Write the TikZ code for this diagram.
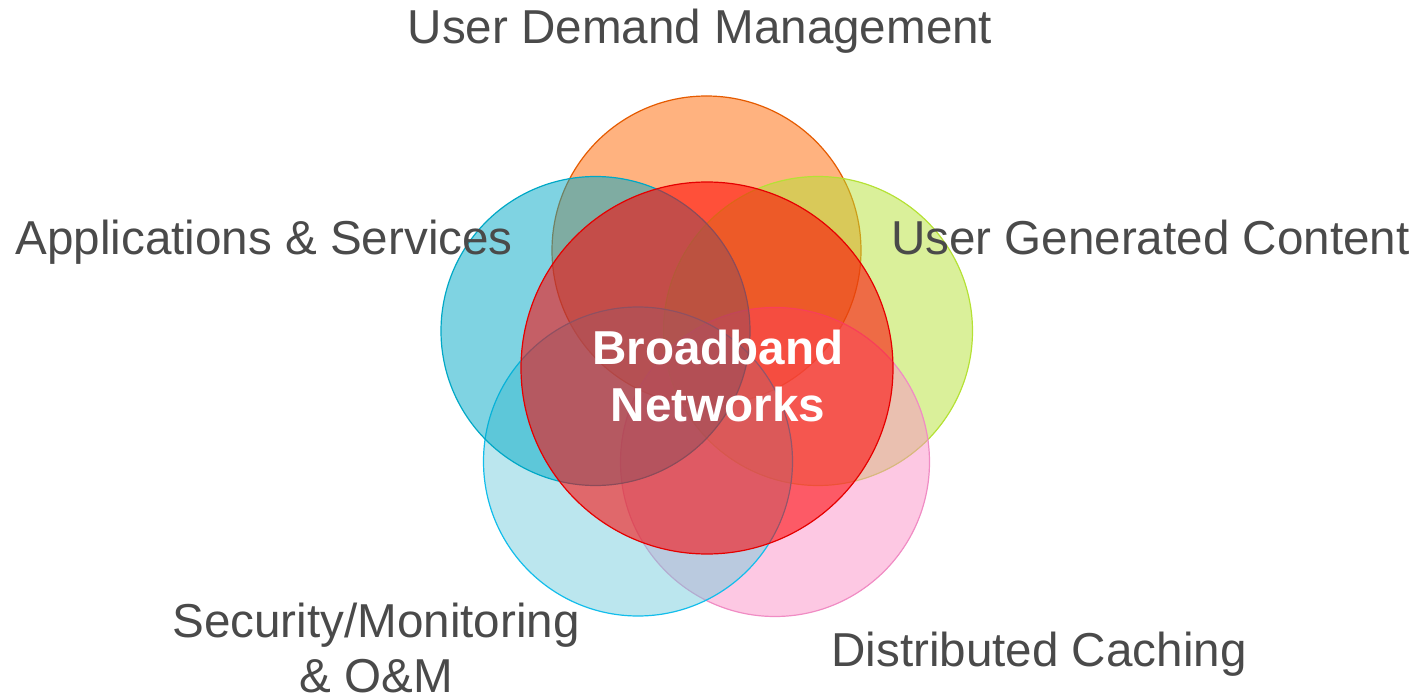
\documentclass[tikz,border=0pt]{standalone}
\usepackage{fontspec}
\setmainfont{Liberation Sans}
\usepackage{xcolor}
\definecolor{labelgray}{HTML}{4A4A4A}
\definecolor{demandorange}{HTML}{FF6500}
\definecolor{appsteal}{HTML}{00A8C6}
\definecolor{contentgreen}{HTML}{B5E135}
\definecolor{securitycyan}{HTML}{78CDDD}
\definecolor{securityline}{HTML}{12BDEB}
\definecolor{cachepink}{HTML}{FB91C7}
\definecolor{cacheline}{HTML}{F08CC4}
\definecolor{broadred}{HTML}{FF0000}
\tikzset{
  topic/.style={text=labelgray, font=\fontsize{23.8}{27.5}\selectfont, inner sep=0pt, anchor=base},
  core/.style={text=white, font=\bfseries\fontsize{23.8}{28.5}\selectfont, inner sep=0pt, align=center},
  blob/.style={fill opacity=0.5, draw opacity=1, line width=0.6pt},
}

\begin{document}
\begin{tikzpicture}[x=0.5pt,y=-0.5pt]
\useasboundingbox (0,0) rectangle (1421,700);
% the five topic circles
\filldraw[blob, fill=demandorange, draw=demandorange!90!black] (706.5,250.5) circle (77.25pt);
\filldraw[blob, fill=contentgreen, draw=contentgreen] (818,331) circle (77.25pt);
\filldraw[blob, fill=cachepink, draw=cacheline] (775,462) circle (77.25pt);
\filldraw[blob, fill=securitycyan, draw=securityline] (638,461.5) circle (77.25pt);
\filldraw[blob, fill=appsteal, draw=appsteal] (595.5,331) circle (77.25pt);
% the core circle on top
\filldraw[blob, fill opacity=0.55, fill=broadred, draw=broadred!90!black] (707,368) circle (93pt);
% labels
\node[topic] (demand) at (700,44) {User Demand Management};
\node[topic, anchor=base west] (apps) at (15,255) {Applications \& Services};
\node[topic, anchor=base east] (content) at (1410,255) {User Generated Content};
\node[topic, align=center, anchor=center] (security) at (376,648) {Security/Monitoring\\\& O\&M};
\node[topic] (caching) at (1039,667) {Distributed Caching};
\node[core] (broadband) at (718,376) {Broadband\\Networks};
\end{tikzpicture}
\end{document}
